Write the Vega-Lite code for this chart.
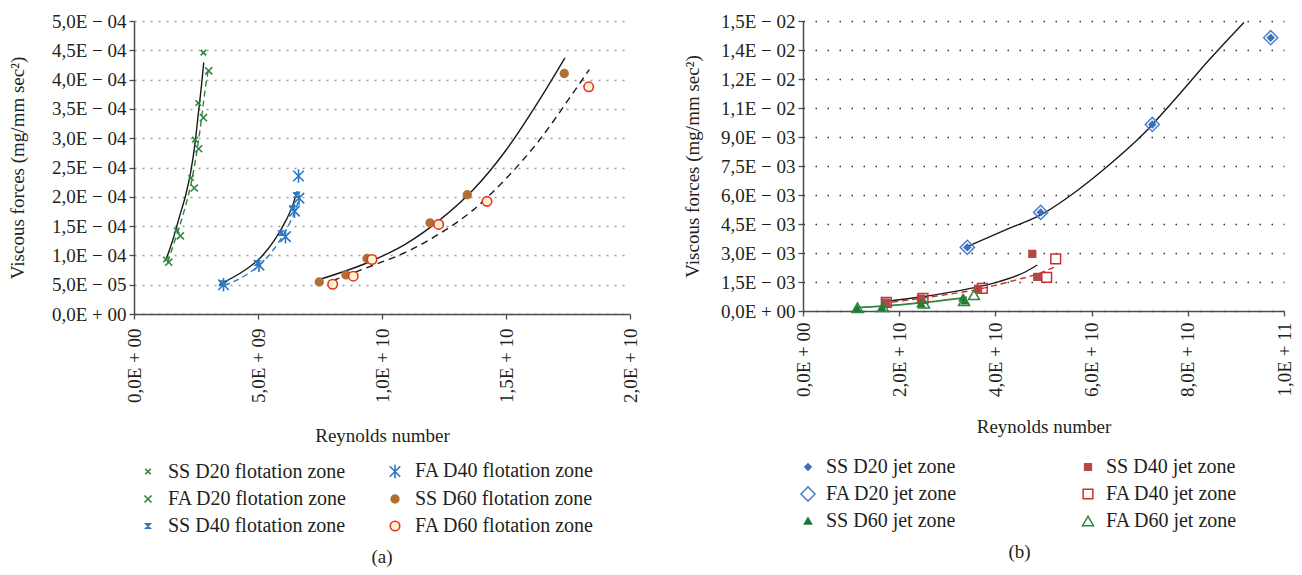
{
  "$schema": "https://vega.github.io/schema/vega-lite/v6.json",
  "padding": {"left": 8, "top": 12, "right": 5, "bottom": 5},
  "background": "white",
  "spacing": 42,
  "datasets": {
    "pointsA": [
      {"series": "SS D20 flotation zone", "x": 1.29e9, "y": 9.3e-5},
      {"series": "SS D20 flotation zone", "x": 1.72e9, "y": 1.426e-4},
      {"series": "SS D20 flotation zone", "x": 2.30e9, "y": 2.32e-4},
      {"series": "SS D20 flotation zone", "x": 2.46e9, "y": 2.975e-4},
      {"series": "SS D20 flotation zone", "x": 2.59e9, "y": 3.60e-4},
      {"series": "SS D20 flotation zone", "x": 2.80e9, "y": 4.46e-4},
      {"series": "FA D20 flotation zone", "x": 1.40e9, "y": 8.84e-5},
      {"series": "FA D20 flotation zone", "x": 1.87e9, "y": 1.334e-4},
      {"series": "FA D20 flotation zone", "x": 2.43e9, "y": 2.15e-4},
      {"series": "FA D20 flotation zone", "x": 2.61e9, "y": 2.82e-4},
      {"series": "FA D20 flotation zone", "x": 2.80e9, "y": 3.35e-4},
      {"series": "FA D20 flotation zone", "x": 3.01e9, "y": 4.15e-4},
      {"series": "SS D40 flotation zone", "x": 3.548e9, "y": 5.25e-5},
      {"series": "SS D40 flotation zone", "x": 4.98e9, "y": 8.67e-5},
      {"series": "SS D40 flotation zone", "x": 5.927e9, "y": 1.38e-4},
      {"series": "SS D40 flotation zone", "x": 6.411e9, "y": 1.807e-4},
      {"series": "SS D40 flotation zone", "x": 6.552e9, "y": 2.03e-4},
      {"series": "FA D40 flotation zone", "x": 3.609e9, "y": 4.99e-5},
      {"series": "FA D40 flotation zone", "x": 5.04e9, "y": 8.33e-5},
      {"series": "FA D40 flotation zone", "x": 6.108e9, "y": 1.32e-4},
      {"series": "FA D40 flotation zone", "x": 6.471e9, "y": 1.756e-4},
      {"series": "FA D40 flotation zone", "x": 6.653e9, "y": 1.978e-4},
      {"series": "FA D40 flotation zone", "x": 6.633e9, "y": 2.355e-4},
      {"series": "SS D60 flotation zone", "x": 7.471e9, "y": 5.47e-5},
      {"series": "SS D60 flotation zone", "x": 8.548e9, "y": 6.67e-5},
      {"series": "SS D60 flotation zone", "x": 9.395e9, "y": 9.47e-5},
      {"series": "SS D60 flotation zone", "x": 1.1935e10, "y": 1.556e-4},
      {"series": "SS D60 flotation zone", "x": 1.3439e10, "y": 2.035e-4},
      {"series": "SS D60 flotation zone", "x": 1.735e10, "y": 4.104e-4},
      {"series": "FA D60 flotation zone", "x": 8.012e9, "y": 5.08e-5},
      {"series": "FA D60 flotation zone", "x": 8.842e9, "y": 6.45e-5},
      {"series": "FA D60 flotation zone", "x": 9.596e9, "y": 9.30e-5},
      {"series": "FA D60 flotation zone", "x": 1.2285e10, "y": 1.529e-4},
      {"series": "FA D60 flotation zone", "x": 1.4233e10, "y": 1.922e-4},
      {"series": "FA D60 flotation zone", "x": 1.8334e10, "y": 3.877e-4}
    ],
    "curvesA": [
      {"curve": "c1", "x": 1.29e9, "y": 9.30e-5},
      {"curve": "c1", "x": 1.559e9, "y": 1.255e-4},
      {"curve": "c1", "x": 1.828e9, "y": 1.654e-4},
      {"curve": "c1", "x": 2.097e9, "y": 2.052e-4},
      {"curve": "c1", "x": 2.298e9, "y": 2.452e-4},
      {"curve": "c1", "x": 2.460e9, "y": 2.907e-4},
      {"curve": "c1", "x": 2.594e9, "y": 3.42e-4},
      {"curve": "c1", "x": 2.715e9, "y": 3.876e-4},
      {"curve": "c1", "x": 2.812e9, "y": 4.292e-4},
      {"curve": "c2", "x": 1.357e9, "y": 8.84e-5},
      {"curve": "c2", "x": 1.693e9, "y": 1.312e-4},
      {"curve": "c2", "x": 2.029e9, "y": 1.768e-4},
      {"curve": "c2", "x": 2.298e9, "y": 2.223e-4},
      {"curve": "c2", "x": 2.500e9, "y": 2.680e-4},
      {"curve": "c2", "x": 2.661e9, "y": 3.136e-4},
      {"curve": "c2", "x": 2.796e9, "y": 3.591e-4},
      {"curve": "c2", "x": 2.903e9, "y": 3.933e-4},
      {"curve": "c2", "x": 2.984e9, "y": 4.133e-4},
      {"curve": "c3", "x": 3.439e9, "y": 5.03e-5},
      {"curve": "c3", "x": 4.447e9, "y": 7.42e-5},
      {"curve": "c3", "x": 5.121e9, "y": 9.70e-5},
      {"curve": "c3", "x": 5.657e9, "y": 1.255e-4},
      {"curve": "c3", "x": 6.129e9, "y": 1.597e-4},
      {"curve": "c3", "x": 6.399e9, "y": 1.854e-4},
      {"curve": "c3", "x": 6.572e9, "y": 2.093e-4},
      {"curve": "c4", "x": 3.641e9, "y": 4.86e-5},
      {"curve": "c4", "x": 4.584e9, "y": 6.84e-5},
      {"curve": "c4", "x": 5.254e9, "y": 9.13e-5},
      {"curve": "c4", "x": 5.794e9, "y": 1.197e-4},
      {"curve": "c4", "x": 6.262e9, "y": 1.539e-4},
      {"curve": "c4", "x": 6.532e9, "y": 1.796e-4},
      {"curve": "c4", "x": 6.665e9, "y": 1.996e-4},
      {"curve": "c5", "x": 7.471e9, "y": 5.88e-5},
      {"curve": "c5", "x": 9.624e9, "y": 9.13e-5},
      {"curve": "c5", "x": 1.0967e10, "y": 1.197e-4},
      {"curve": "c5", "x": 1.231e10, "y": 1.597e-4},
      {"curve": "c5", "x": 1.3657e10, "y": 2.110e-4},
      {"curve": "c5", "x": 1.4999e10, "y": 2.794e-4},
      {"curve": "c5", "x": 1.6342e10, "y": 3.649e-4},
      {"curve": "c5", "x": 1.7378e10, "y": 4.372e-4},
      {"curve": "c6", "x": 8.012e9, "y": 5.71e-5},
      {"curve": "c6", "x": 9.624e9, "y": 8.28e-5},
      {"curve": "c6", "x": 1.0967e10, "y": 1.055e-4},
      {"curve": "c6", "x": 1.231e10, "y": 1.368e-4},
      {"curve": "c6", "x": 1.3657e10, "y": 1.768e-4},
      {"curve": "c6", "x": 1.4999e10, "y": 2.309e-4},
      {"curve": "c6", "x": 1.6342e10, "y": 2.965e-4},
      {"curve": "c6", "x": 1.7688e10, "y": 3.762e-4},
      {"curve": "c6", "x": 1.8358e10, "y": 4.172e-4}
    ],
    "pointsB": [
      {"series": "SS D40 jet zone", "x": 1.726e10, "y": 4.3e-4},
      {"series": "SS D40 jet zone", "x": 2.453e10, "y": 6.4e-4},
      {"series": "SS D40 jet zone", "x": 3.638e10, "y": 1.15e-3},
      {"series": "SS D40 jet zone", "x": 4.767e10, "y": 2.95e-3},
      {"series": "SS D40 jet zone", "x": 4.871e10, "y": 1.77e-3},
      {"series": "FA D40 jet zone", "x": 1.732e10, "y": 4.4e-4},
      {"series": "FA D40 jet zone", "x": 2.495e10, "y": 6.5e-4},
      {"series": "FA D40 jet zone", "x": 3.728e10, "y": 1.17e-3},
      {"series": "FA D40 jet zone", "x": 5.066e10, "y": 1.74e-3},
      {"series": "FA D40 jet zone", "x": 5.254e10, "y": 2.69e-3},
      {"series": "SS D60 jet zone", "x": 1.123e10, "y": 1.2e-4},
      {"series": "SS D60 jet zone", "x": 1.642e10, "y": 1.7e-4},
      {"series": "SS D60 jet zone", "x": 2.453e10, "y": 3.8e-4},
      {"series": "SS D60 jet zone", "x": 3.326e10, "y": 6.9e-4},
      {"series": "SS D60 jet zone", "x": 3.368e10, "y": 5.3e-4},
      {"series": "FA D60 jet zone", "x": 1.133e10, "y": 1.7e-4},
      {"series": "FA D60 jet zone", "x": 1.663e10, "y": 2.2e-4},
      {"series": "FA D60 jet zone", "x": 2.516e10, "y": 4.0e-4},
      {"series": "FA D60 jet zone", "x": 3.347e10, "y": 5.3e-4},
      {"series": "FA D60 jet zone", "x": 3.555e10, "y": 8.4e-4},
      {"series": "FA D20 jet zone", "x": 3.416e10, "y": 3.29e-3},
      {"series": "FA D20 jet zone", "x": 4.942e10, "y": 5.10e-3},
      {"series": "FA D20 jet zone", "x": 7.262e10, "y": 9.65e-3},
      {"series": "FA D20 jet zone", "x": 9.724e10, "y": 1.4135e-2},
      {"series": "SS D20 jet zone", "x": 3.416e10, "y": 3.29e-3},
      {"series": "SS D20 jet zone", "x": 4.942e10, "y": 5.10e-3},
      {"series": "SS D20 jet zone", "x": 7.262e10, "y": 9.65e-3},
      {"series": "SS D20 jet zone", "x": 9.724e10, "y": 1.4135e-2}
    ],
    "curvesB": [
      {"curve": "d1", "x": 3.437e10, "y": 3.36e-3},
      {"curve": "d1", "x": 4.283e10, "y": 4.27e-3},
      {"curve": "d1", "x": 4.942e10, "y": 4.97e-3},
      {"curve": "d1", "x": 5.669e10, "y": 6.17e-3},
      {"curve": "d1", "x": 6.362e10, "y": 7.55e-3},
      {"curve": "d1", "x": 7.054e10, "y": 9.10e-3},
      {"curve": "d1", "x": 7.748e10, "y": 1.0996e-2},
      {"curve": "d1", "x": 8.441e10, "y": 1.298e-2},
      {"curve": "d1", "x": 9.168e10, "y": 1.4927e-2},
      {"curve": "d2", "x": 1.649e10, "y": 4.8e-4},
      {"curve": "d2", "x": 2.480e10, "y": 7.4e-4},
      {"curve": "d2", "x": 3.383e10, "y": 1.12e-3},
      {"curve": "d2", "x": 4.075e10, "y": 1.52e-3},
      {"curve": "d2", "x": 4.630e10, "y": 2.03e-3},
      {"curve": "d2", "x": 4.871e10, "y": 2.38e-3},
      {"curve": "d3", "x": 1.649e10, "y": 3.9e-4},
      {"curve": "d3", "x": 2.688e10, "y": 7.4e-4},
      {"curve": "d3", "x": 3.728e10, "y": 1.17e-3},
      {"curve": "d3", "x": 4.422e10, "y": 1.60e-3},
      {"curve": "d3", "x": 4.906e10, "y": 1.94e-3},
      {"curve": "d3", "x": 5.287e10, "y": 2.34e-3},
      {"curve": "d4", "x": 1.123e10, "y": 1.7e-4},
      {"curve": "d4", "x": 1.642e10, "y": 2.5e-4},
      {"curve": "d4", "x": 2.474e10, "y": 4.3e-4},
      {"curve": "d4", "x": 3.41e10, "y": 7.1e-4}
    ]
  },
  "hconcat": [
    {
      "width": 496,
      "height": 293,
      "title": {"text": "(a)", "orient": "bottom", "anchor": "middle", "offset": 12, "fontSize": 19, "font": "Liberation Serif", "fontWeight": "normal", "color": "#231f20"},
      "encoding": {
        "x": {"field": "x", "type": "quantitative", "title": "Reynolds number",
          "scale": {"domain": [0, 2e10], "nice": false},
          "axis": {"values": [0, 5e9, 1e10, 1.5e10, 2e10], "grid": false, "labelAngle": -90, "labelPadding": 9, "titlePadding": 24,
            "labelExpr": "datum.value == 0 ? '0,0E + 00' : replace(format(datum.value / pow(10, floor(log(datum.value)/LN10 + 1e-9)) + 1e-9, '.1f'), '.', ',') + 'E ' + (floor(log(datum.value)/LN10 + 1e-9) < 0 ? '− ' : '+ ') + (abs(floor(log(datum.value)/LN10 + 1e-9)) < 10 ? '0' : '') + abs(floor(log(datum.value)/LN10 + 1e-9))"}},
        "y": {"field": "y", "type": "quantitative", "title": "Viscous forces (mg/mm sec²)",
          "scale": {"domain": [0, 5e-4], "nice": false},
          "axis": {"values": [0, 5e-5, 1e-4, 1.5e-4, 2e-4, 2.5e-4, 3e-4, 3.5e-4, 4e-4, 4.5e-4, 5e-4], "grid": true, "gridColor": "#9a9a9a", "gridDash": [2, 6], "gridWidth": 1.6, "labelPadding": 3, "titlePadding": 24,
            "labelExpr": "datum.value == 0 ? '0,0E + 00' : replace(format(datum.value / pow(10, floor(log(datum.value)/LN10 + 1e-9)) + 1e-9, '.1f'), '.', ',') + 'E ' + (floor(log(datum.value)/LN10 + 1e-9) < 0 ? '− ' : '+ ') + (abs(floor(log(datum.value)/LN10 + 1e-9)) < 10 ? '0' : '') + abs(floor(log(datum.value)/LN10 + 1e-9))"}}
      },
      "layer": [
        {
          "data": {"name": "curvesA"},
          "transform": [{"filter": {"field": "curve", "oneOf": ["c1", "c3", "c5"]}}],
          "mark": {"type": "line", "color": "#1a1a1a", "strokeWidth": 1.4, "interpolate": "monotone"},
          "encoding": {"detail": {"field": "curve"}}
        },
        {
          "data": {"name": "curvesA"},
          "transform": [{"filter": {"field": "curve", "equal": "c2"}}],
          "mark": {"type": "line", "color": "#2e8540", "strokeWidth": 1.4, "strokeDash": [6, 4], "interpolate": "monotone"},
          "encoding": {}
        },
        {
          "data": {"name": "curvesA"},
          "transform": [{"filter": {"field": "curve", "equal": "c4"}}],
          "mark": {"type": "line", "color": "#2b79c2", "strokeWidth": 1.4, "strokeDash": [6, 4], "interpolate": "monotone"},
          "encoding": {}
        },
        {
          "data": {"name": "curvesA"},
          "transform": [{"filter": {"field": "curve", "equal": "c6"}}],
          "mark": {"type": "line", "color": "#1a1a1a", "strokeWidth": 1.4, "strokeDash": [7, 5], "interpolate": "monotone"},
          "encoding": {}
        },
        {
          "data": {"name": "pointsA"},
          "mark": {"type": "point", "filled": false, "strokeWidth": 1.6, "opacity": 1},
          "encoding": {
            "shape": {"field": "series", "type": "nominal",
              "scale": {"domain": ["SS D20 flotation zone", "FA D20 flotation zone", "SS D40 flotation zone", "FA D40 flotation zone", "SS D60 flotation zone", "FA D60 flotation zone"],
                "range": ["M-1,-1L1,1M1,-1L-1,1", "M-1,-1L1,1M1,-1L-1,1", "M-1,-1L1,-1L-1,1L1,1Z", "M-1,-1L1,1M1,-1L-1,1M0,-1.3L0,1.3", "circle", "circle"]},
              "legend": {"title": null, "orient": "none", "legendX": 4, "legendY": 440, "columns": 2, "columnPadding": 37, "rowPadding": 7, "labelFontSize": 20, "labelLimit": 400, "labelFont": "Liberation Serif", "labelColor": "#231f20", "labelOffset": 10, "symbolStrokeWidth": 1.6}},
            "stroke": {"field": "series", "type": "nominal",
              "scale": {"domain": ["SS D20 flotation zone", "FA D20 flotation zone", "SS D40 flotation zone", "FA D40 flotation zone", "SS D60 flotation zone", "FA D60 flotation zone"],
                "range": ["#2e8540", "#2e8540", "#2b79c2", "#2b79c2", "#b36f32", "#e8302a"]},
              "legend": {"title": null, "orient": "none", "legendX": 4, "legendY": 440, "columns": 2, "columnPadding": 37, "rowPadding": 7, "labelFontSize": 20, "labelLimit": 400, "labelFont": "Liberation Serif", "labelColor": "#231f20", "labelOffset": 10, "symbolStrokeWidth": 1.6}},
            "fill": {"field": "series", "type": "nominal",
              "scale": {"domain": ["SS D20 flotation zone", "FA D20 flotation zone", "SS D40 flotation zone", "FA D40 flotation zone", "SS D60 flotation zone", "FA D60 flotation zone"],
                "range": ["transparent", "transparent", "#2b79c2", "transparent", "#b36f32", "#fcf7cf"]},
              "legend": {"title": null, "orient": "none", "legendX": 4, "legendY": 440, "columns": 2, "columnPadding": 37, "rowPadding": 7, "labelFontSize": 20, "labelLimit": 400, "labelFont": "Liberation Serif", "labelColor": "#231f20", "labelOffset": 10, "symbolStrokeWidth": 1.6}},
            "size": {"field": "series", "type": "nominal",
              "scale": {"type": "ordinal", "domain": ["SS D20 flotation zone", "FA D20 flotation zone", "SS D40 flotation zone", "FA D40 flotation zone", "SS D60 flotation zone", "FA D60 flotation zone"],
                "range": [30, 50, 18, 110, 60, 90]},
              "legend": {"title": null, "orient": "none", "legendX": 4, "legendY": 440, "columns": 2, "columnPadding": 37, "rowPadding": 7, "labelFontSize": 20, "labelLimit": 400, "labelFont": "Liberation Serif", "labelColor": "#231f20", "labelOffset": 10, "symbolStrokeWidth": 1.6}}
          }
        }
      ]
    },
    {
      "width": 481,
      "height": 290,
      "title": {"text": "(b)", "orient": "bottom", "anchor": "middle", "offset": 12, "dx": -24, "fontSize": 19, "font": "Liberation Serif", "fontWeight": "normal", "color": "#231f20"},
      "encoding": {
        "x": {"field": "x", "type": "quantitative", "title": "Reynolds number",
          "scale": {"domain": [0, 1e11], "nice": false},
          "axis": {"values": [0, 2e10, 4e10, 6e10, 8e10, 1e11], "grid": false, "labelAngle": -90, "labelPadding": 6, "titlePadding": 21,
            "labelExpr": "datum.value == 0 ? '0,0E + 00' : replace(format(datum.value / pow(10, floor(log(datum.value)/LN10 + 1e-9)) + 1e-9, '.1f'), '.', ',') + 'E ' + (floor(log(datum.value)/LN10 + 1e-9) < 0 ? '− ' : '+ ') + (abs(floor(log(datum.value)/LN10 + 1e-9)) < 10 ? '0' : '') + abs(floor(log(datum.value)/LN10 + 1e-9))"}},
        "y": {"field": "y", "type": "quantitative", "title": "Viscous forces (mg/mm sec²)",
          "scale": {"domain": [0, 0.015], "nice": false},
          "axis": {"values": [0, 0.0015, 0.003, 0.0045, 0.006, 0.0075, 0.009, 0.0105, 0.012, 0.0135, 0.015], "grid": true, "gridColor": "#333333", "gridDash": [1.5, 10.5], "gridWidth": 1.3, "labelPadding": 3, "titlePadding": 18,
            "labelExpr": "datum.value == 0 ? '0,0E + 00' : replace(format(datum.value / pow(10, floor(log(datum.value)/LN10 + 1e-9)) + 1e-9, '.1f'), '.', ',') + 'E ' + (floor(log(datum.value)/LN10 + 1e-9) < 0 ? '− ' : '+ ') + (abs(floor(log(datum.value)/LN10 + 1e-9)) < 10 ? '0' : '') + abs(floor(log(datum.value)/LN10 + 1e-9))"}}
      },
      "layer": [
        {
          "data": {"name": "curvesB"},
          "transform": [{"filter": {"field": "curve", "oneOf": ["d1", "d2"]}}],
          "mark": {"type": "line", "color": "#1a1a1a", "strokeWidth": 1.4, "interpolate": "monotone"},
          "encoding": {"detail": {"field": "curve"}}
        },
        {
          "data": {"name": "curvesB"},
          "transform": [{"filter": {"field": "curve", "equal": "d3"}}],
          "mark": {"type": "line", "color": "#c8302f", "strokeWidth": 1.4, "strokeDash": [6, 4], "interpolate": "monotone"},
          "encoding": {}
        },
        {
          "data": {"name": "curvesB"},
          "transform": [{"filter": {"field": "curve", "equal": "d4"}}],
          "mark": {"type": "line", "color": "#2e8540", "strokeWidth": 1.8, "interpolate": "monotone"},
          "encoding": {}
        },
        {
          "data": {"name": "pointsB"},
          "mark": {"type": "point", "filled": false, "strokeWidth": 1.5, "opacity": 1},
          "encoding": {
            "shape": {"field": "series", "type": "nominal",
              "scale": {"domain": ["SS D20 jet zone", "FA D20 jet zone", "SS D60 jet zone", "SS D40 jet zone", "FA D40 jet zone", "FA D60 jet zone"],
                "range": ["diamond", "diamond", "triangle-up", "square", "square", "triangle-up"]},
              "legend": {"title": null, "orient": "none", "legendX": -5, "legendY": 436, "columns": 2, "columnPadding": 120, "rowPadding": 6, "labelFontSize": 20, "labelLimit": 400, "labelFont": "Liberation Serif", "labelColor": "#231f20", "labelOffset": 8, "symbolStrokeWidth": 1.5}},
            "stroke": {"field": "series", "type": "nominal",
              "scale": {"domain": ["SS D20 jet zone", "FA D20 jet zone", "SS D60 jet zone", "SS D40 jet zone", "FA D40 jet zone", "FA D60 jet zone"],
                "range": ["#3f6fb5", "#4f81c7", "#1e7a36", "#b04848", "#c8302f", "#2e8540"]},
              "legend": {"title": null, "orient": "none", "legendX": -5, "legendY": 436, "columns": 2, "columnPadding": 120, "rowPadding": 6, "labelFontSize": 20, "labelLimit": 400, "labelFont": "Liberation Serif", "labelColor": "#231f20", "labelOffset": 8, "symbolStrokeWidth": 1.5}},
            "fill": {"field": "series", "type": "nominal",
              "scale": {"domain": ["SS D20 jet zone", "FA D20 jet zone", "SS D60 jet zone", "SS D40 jet zone", "FA D40 jet zone", "FA D60 jet zone"],
                "range": ["#3f6fb5", "transparent", "#1e7a36", "#b04848", "transparent", "transparent"]},
              "legend": {"title": null, "orient": "none", "legendX": -5, "legendY": 436, "columns": 2, "columnPadding": 120, "rowPadding": 6, "labelFontSize": 20, "labelLimit": 400, "labelFont": "Liberation Serif", "labelColor": "#231f20", "labelOffset": 8, "symbolStrokeWidth": 1.5}},
            "size": {"field": "series", "type": "nominal",
              "scale": {"type": "ordinal", "domain": ["SS D20 jet zone", "FA D20 jet zone", "SS D60 jet zone", "SS D40 jet zone", "FA D40 jet zone", "FA D60 jet zone"],
                "range": [40, 200, 50, 45, 95, 120]},
              "legend": {"title": null, "orient": "none", "legendX": -5, "legendY": 436, "columns": 2, "columnPadding": 120, "rowPadding": 6, "labelFontSize": 20, "labelLimit": 400, "labelFont": "Liberation Serif", "labelColor": "#231f20", "labelOffset": 8, "symbolStrokeWidth": 1.5}}
          }
        }
      ]
    }
  ],
  "resolve": {
    "scale": {"x": "independent", "y": "independent", "shape": "independent", "stroke": "independent", "fill": "independent", "size": "independent"},
    "legend": {"shape": "independent", "stroke": "independent", "fill": "independent", "size": "independent"}
  },
  "config": {
    "view": {"stroke": null},
    "font": "Liberation Serif",
    "axis": {"labelFont": "Liberation Serif", "labelFontSize": 19, "labelColor": "#231f20", "titleFont": "Liberation Serif", "titleFontSize": 19, "titleFontWeight": "normal", "titleColor": "#231f20", "domainColor": "#4d4d4d", "tickColor": "#4d4d4d", "domainWidth": 1.5, "tickWidth": 1.3, "tickSize": 5, "labelFlush": false, "labelOverlap": false}
  }
}
